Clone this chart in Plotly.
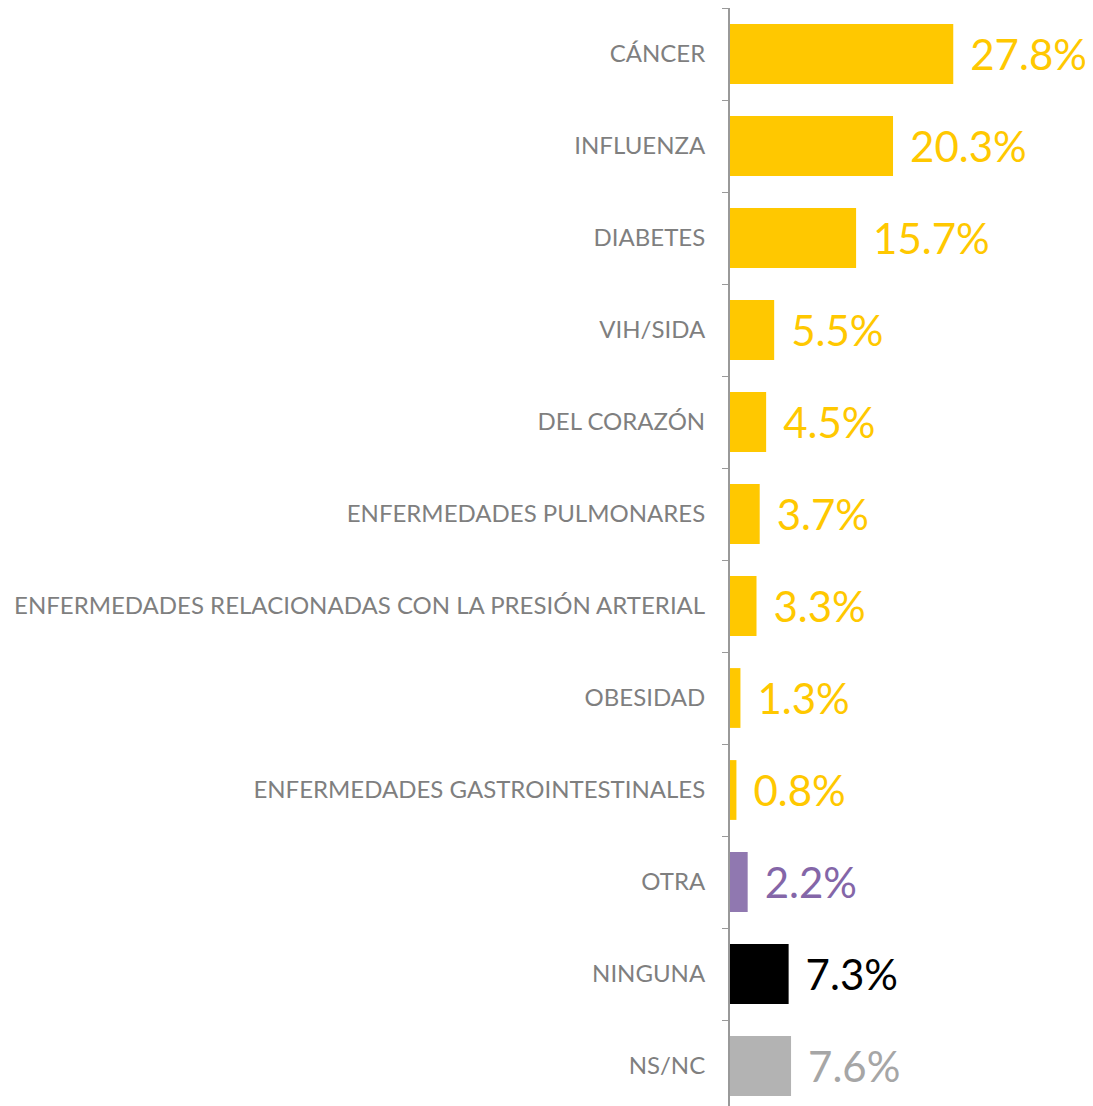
import plotly.graph_objects as go

categorias = ["CÁNCER", "INFLUENZA", "DIABETES", "VIH/SIDA", "DEL CORAZÓN",
              "ENFERMEDADES PULMONARES",
              "ENFERMEDADES RELACIONADAS CON LA PRESIÓN ARTERIAL",
              "OBESIDAD", "ENFERMEDADES GASTROINTESTINALES", "OTRA",
              "NINGUNA", "NS/NC"]
valores = [27.8, 20.3, 15.7, 5.5, 4.5, 3.7, 3.3, 1.3, 0.8, 2.2, 7.3, 7.6]
colores = ["#FFC800"] * 9 + ["#9078B0", "#000000", "#B3B3B3"]
colores_texto = ["#FFC800"] * 9 + ["#8466A8", "#000000", "#A6A6A6"]

fig = go.Figure(go.Bar(
    y=categorias, x=valores, orientation="h",
    marker=dict(color=colores, line_width=0),
    width=0.65,
    text=["\u2004" + f"{v:.1f}%" for v in valores],
    textposition="outside",
    textfont=dict(color=colores_texto, size=42, family="Lato"),
    cliponaxis=False,
))

# el eje y: línea gris con marcas entre categorías
fig.update_yaxes(
    autorange=False, range=[11.5, -0.5], automargin=False,
    showline=True, linecolor="#999999", linewidth=2,
    ticks="outside", tickson="boundaries", ticklen=6, tickcolor="#999999",
    tickfont=dict(color="#7F7F7F", size=24, family="Lato"),
    ticklabelstandoff=18, showgrid=False,
)
fig.update_xaxes(range=[0, 45.2], visible=False, showgrid=False, automargin=False)

fig.update_layout(
    width=1085, height=1104,
    margin=dict(l=722, r=0, t=0, b=0, autoexpand=False),
    plot_bgcolor="white", paper_bgcolor="white",
    showlegend=False,
)

fig.write_html("out.html")
